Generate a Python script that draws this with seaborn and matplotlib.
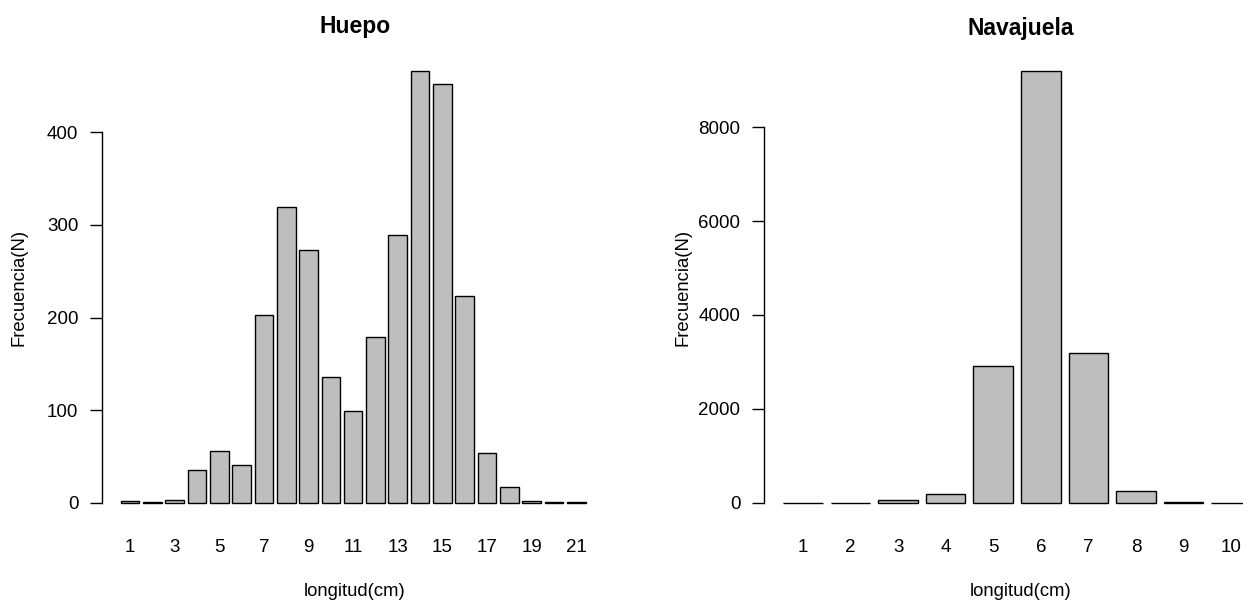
import matplotlib
matplotlib.use("Agg")
import matplotlib.pyplot as plt
import seaborn as sns
import pandas as pd

# ---- data ----
huepo_len = [str(i) for i in range(1, 22)]
huepo_freq = [1.5, 1, 3.5, 35, 56, 41, 203, 319, 273, 136, 99, 179, 289, 466, 452, 223, 54, 17, 1.5, 1, 1]
huepo_yticks = [0, 100, 200, 300, 400]

nava_len = [str(i) for i in range(1, 11)]
nava_freq = [5, 5, 55, 195, 2920, 9190, 3180, 245, 20, 5]
nava_yticks = [0, 2000, 4000, 6000, 8000]

titles = ["Huepo", "Navajuela"]
xlab = "longitud(cm)"
ylab = "Frecuencia(N)"

sns.set_theme(style="white")
plt.rcParams["font.family"] = ["Liberation Sans", "DejaVu Sans"]
plt.rcParams["text.color"] = "black"
plt.rcParams["axes.labelcolor"] = "black"
plt.rcParams["xtick.color"] = "black"
plt.rcParams["ytick.color"] = "black"

W, H = 1243, 602
fig = plt.figure(figsize=(W / 100, H / 100), dpi=100)

# axes positions in pixels: (left, top, right, bottom)
boxes = [(102, 54, 608, 520), (764, 54, 1278, 520)]
bar_w = 1 / 1.2


def panel(box, cats, vals, yticks, title, xtick_step, ylabel_px, title_px):
    l, t, r, b = box
    ax = fig.add_axes([l / W, (H - b) / H, (r - l) / W, (b - t) / H])
    df = pd.DataFrame({"len": cats, "freq": vals})
    sns.barplot(data=df, x="len", y="freq", ax=ax, color="#BEBEBE",
                saturation=1, edgecolor="black", linewidth=1.0, width=bar_w)
    n = len(cats)
    ax.set_xlim((-0.5 - 0.048 * n) / 1.2, (1.2 * n - 0.5 + 0.048 * n) / 1.2)
    m = max(vals)
    ax.set_ylim(-0.04 * m, 1.04 * m)
    for s in ["top", "right", "bottom"]:
        ax.spines[s].set_visible(False)
    ax.spines["left"].set_bounds(yticks[0], yticks[-1])
    ax.spines["left"].set_color("black")
    ax.spines["left"].set_linewidth(1.0)
    ax.set_yticks(yticks)
    ax.set_yticklabels([str(v) for v in yticks])
    ax.tick_params(axis="y", length=9, width=1.0, color="black", pad=8,
                   labelsize=13.5, labelcolor="black", direction="out", left=True)
    ax.set_xticks(range(0, n, xtick_step))
    ax.set_xticklabels(cats[::xtick_step])
    ax.tick_params(axis="x", length=0, pad=14, labelsize=13.5, labelcolor="black")
    ax.set_xlabel(xlab, fontsize=13.3, color="black")
    ax.xaxis.label.set_va("center")
    ax.xaxis.set_label_coords(0.5, -(591 - b) / (b - t))
    ax.set_ylabel(ylab, fontsize=13.3, color="black")
    ax.yaxis.label.set_va("center")
    ax.yaxis.set_label_coords((ylabel_px - l) / (r - l), 0.5)
    ax.set_title(title, fontsize=16.5, fontweight="bold", va="center",
                 color="black", pad=0, y=1 + (t - title_px) / (b - t))
    ax.grid(False)
    return ax


panel(boxes[0], huepo_len, huepo_freq, huepo_yticks, titles[0], 2, 19, 27)
panel(boxes[1], nava_len, nava_freq, nava_yticks, titles[1], 1, 683, 29)

fig.savefig("out.png", dpi=100)
